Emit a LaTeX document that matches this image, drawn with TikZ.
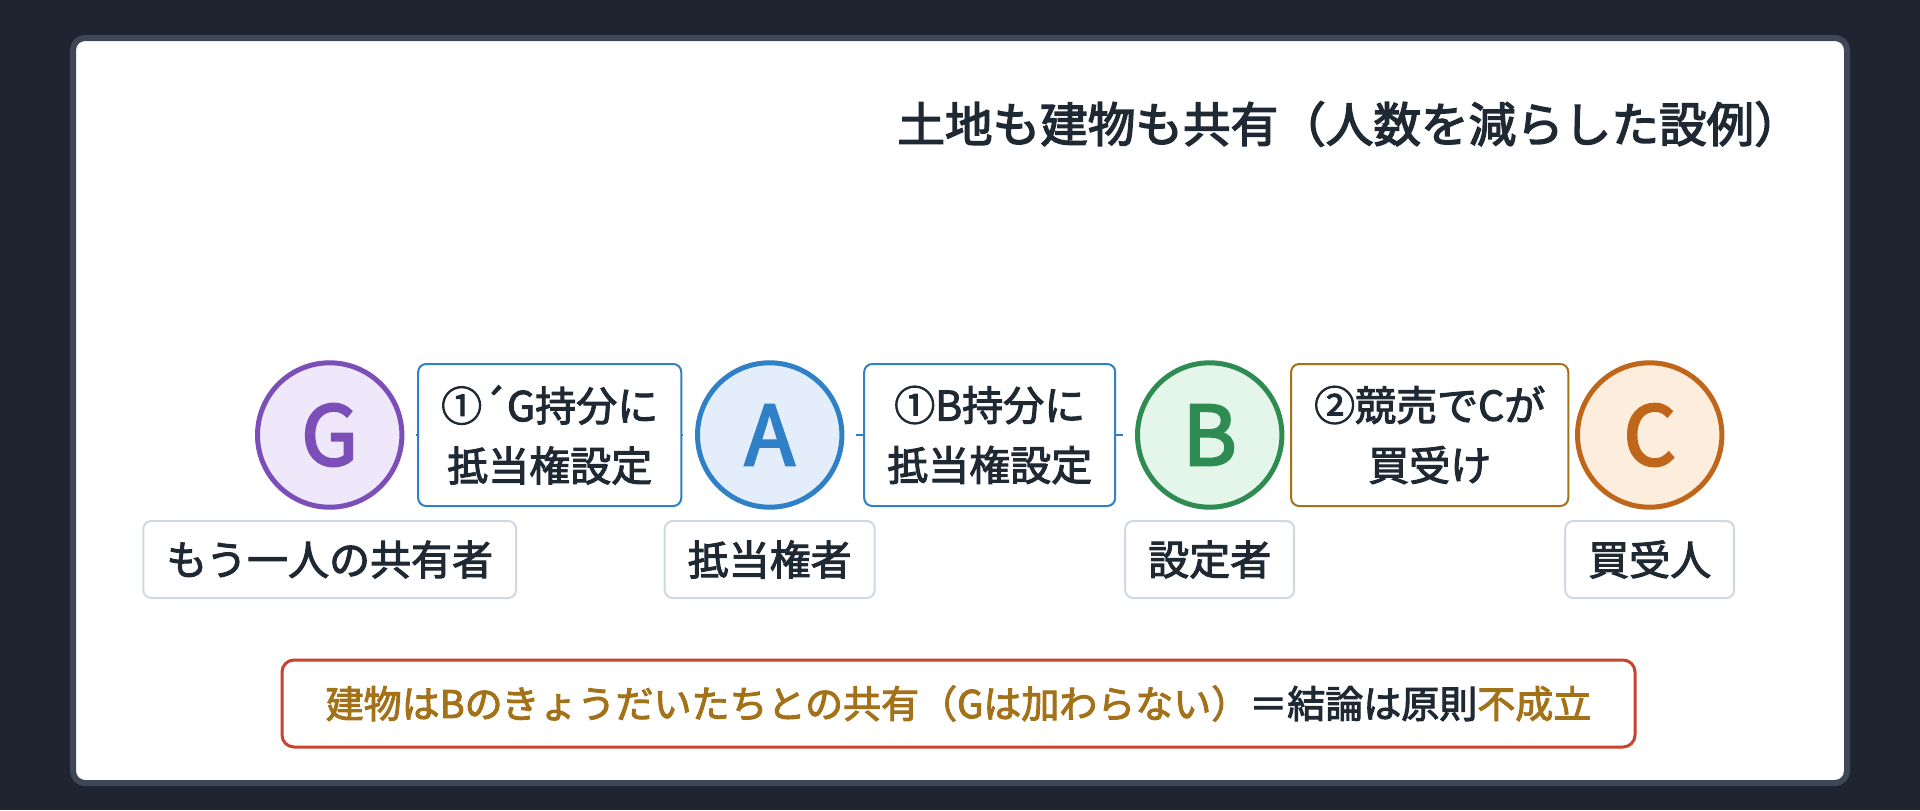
\documentclass[tikz,border=0pt]{standalone}
\usepackage{fontspec}
\setmainfont{Noto Sans CJK JP}
\usetikzlibrary{positioning,calc}

\newcommand\grosso[2]{\special{pdf:literal direct 2 Tr #1 w}#2\special{pdf:literal direct 0 Tr}}

\definecolor{fundo}{RGB}{30,37,48}
\definecolor{moldura}{RGB}{61,71,87}
\definecolor{escuro}{RGB}{31,41,51}
\definecolor{roxo}{RGB}{124,79,184}
\definecolor{roxoclaro}{RGB}{239,231,250}
\definecolor{azul}{RGB}{47,128,198}
\definecolor{azulclaro}{RGB}{227,238,250}
\definecolor{verde}{RGB}{46,139,82}
\definecolor{verdeclaro}{RGB}{228,245,233}
\definecolor{laranja}{RGB}{192,102,27}
\definecolor{laranjaclaro}{RGB}{253,237,220}
\definecolor{dourado}{RGB}{163,113,24}
\definecolor{vermelho}{RGB}{201,67,46}
\definecolor{cinza}{RGB}{207,216,227}

\begin{document}
\begin{tikzpicture}[x=0.5pt,y=-0.5pt,
    pessoa/.style={circle, line width=2.5pt, minimum size=72.2pt, inner sep=0pt, font=\fontsize{41}{41}\selectfont},
    rotulo/.style={draw=cinza, line width=1pt, rounded corners=4pt, fill=white, inner xsep=11.5pt, minimum height=38.5pt, text=escuro, font=\fontsize{20.5}{24}\selectfont},
    acao/.style={line width=1pt, rounded corners=4pt, fill=white, inner xsep=11.5pt, minimum height=71pt, align=center, text=escuro, font=\fontsize{20.5}{30}\selectfont},
    ligacao/.style={line width=1pt, shorten <=6pt, shorten >=6pt}]
            \fill[fundo] (0,0) rectangle (1920,810);
            \filldraw[fill=white, draw=moldura, line width=3pt, rounded corners=6pt] (73,38) rectangle (1847,783);

            \node[anchor=west, inner sep=0pt, text=escuro, font=\fontsize{23.8}{23.8}\selectfont] (titulo) at (897,124) {\grosso{0.7}{土地も建物も共有（人数を減らした設例）}};

            \node[pessoa, draw=roxo, fill=roxoclaro, text=roxo] (G) at (329.7,435) {\grosso{1.3}{G}};
            \node[pessoa, draw=azul, fill=azulclaro, text=azul] (A) at (769.7,435) {\grosso{1.3}{A}};
            \node[pessoa, draw=verde, fill=verdeclaro, text=verde] (B) at (1209.7,435) {\grosso{1.3}{B}};
            \node[pessoa, draw=laranja, fill=laranjaclaro, text=laranja] (C) at (1649.7,435) {\grosso{1.3}{C}};

            \draw[ligacao, azul] (A) -- (G);
            \draw[ligacao, azul] (B) -- (A);

            \node[acao, draw=azul] (acaoGA) at ($(G)!0.5!(A)$) {\grosso{0.5}{①´G持分に}\\\grosso{0.5}{抵当権設定}};
            \node[acao, draw=azul] (acaoAB) at ($(A)!0.5!(B)$) {\grosso{0.5}{①B持分に}\\\grosso{0.5}{抵当権設定}};
            \node[acao, draw=dourado] (acaoBC) at ($(B)!0.5!(C)$) {\grosso{0.5}{②競売でCが}\\\grosso{0.5}{買受け}};

            \node[rotulo] (nomeG) at (329.7,559.5) {\grosso{0.5}{もう一人の共有者}};
            \node[rotulo] (nomeA) at (769.7,559.5) {\grosso{0.5}{抵当権者}};
            \node[rotulo] (nomeB) at (1209.7,559.5) {\grosso{0.5}{設定者}};
            \node[rotulo] (nomeC) at (1649.7,559.5) {\grosso{0.5}{買受人}};

            \node[draw=vermelho, line width=1.5pt, rounded corners=6pt, fill=white, minimum width=676.5pt, minimum height=43.5pt, text=dourado, font=\fontsize{19}{19}\selectfont] (conclusao) at (958.5,703.5) {\grosso{0.5}{建物はBのきょうだいたちとの共有（Gは加わらない）}\textcolor{escuro}{\grosso{0.5}{＝結論は原則}}\grosso{0.5}{不成立}};
        \end{tikzpicture}
\end{document}
